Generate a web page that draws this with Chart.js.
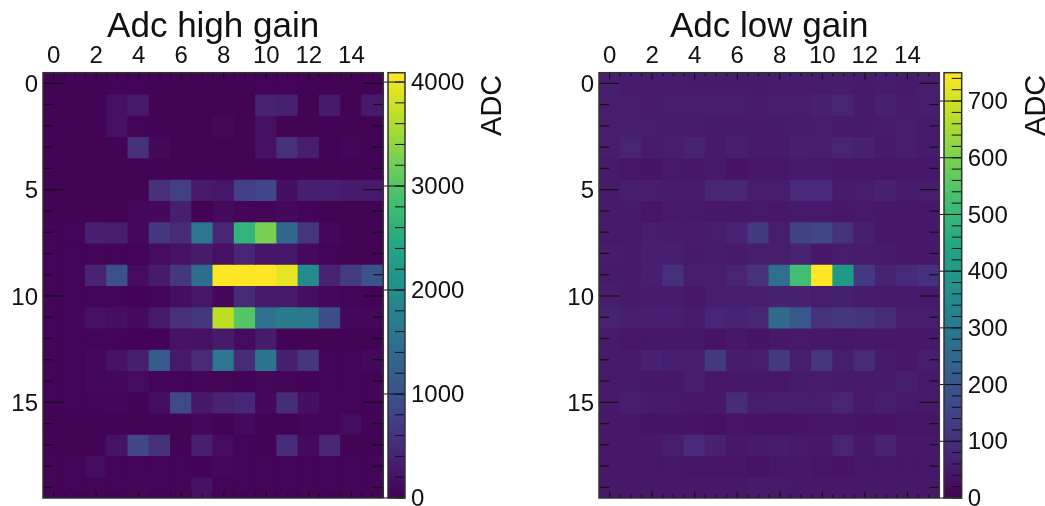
<!DOCTYPE html>
<html>
<head>
<meta charset="utf-8">
<title>Adc gain</title>
<script src="https://cdn.jsdelivr.net/npm/chart.js@4"></script>
<style>
    html, body { margin: 0; padding: 0; background: #fff; }
    #page { position: relative; width: 1045px; height: 506px; overflow: hidden; }
    canvas { position: absolute; top: 0; }
</style>
</head>
<body>
<div id="page">
    <canvas id="highMap" width="390" height="530" style="left:0"></canvas>
    <canvas id="highBar" width="140" height="530" style="left:380px"></canvas>
    <canvas id="lowMap" width="390" height="530" style="left:556px"></canvas>
    <canvas id="lowBar" width="109" height="530" style="left:936px"></canvas>
</div>
<script>
const columnLabels = ['0', '1', '2', '3', '4', '5', '6', '7', '8', '9', '10', '11', '12', '13', '14', '15'];
const rowTicks = [0, 5, 10, 15];

const highGain = [
    [30, 30, 30, 35, 35, 30, 30, 30, 30, 30, 35, 35, 30, 30, 30, 30],
    [30, 30, 30, 190, 280, 30, 30, 30, 30, 30, 380, 360, 30, 300, 30, 280],
    [30, 30, 30, 180, 40, 30, 30, 30, 90, 30, 180, 30, 30, 30, 30, 30],
    [30, 30, 30, 30, 560, 90, 30, 30, 30, 30, 180, 560, 340, 30, 60, 30],
    [30, 30, 30, 30, 30, 30, 30, 30, 30, 30, 30, 30, 30, 30, 30, 30],
    [30, 30, 30, 30, 30, 550, 760, 280, 250, 760, 850, 170, 350, 350, 290, 280],
    [30, 30, 30, 30, 70, 80, 350, 10, 100, 60, 60, 80, 40, 30, 30, 30],
    [40, 40, 350, 330, 80, 650, 480, 1600, 430, 2650, 3250, 1350, 620, 80, 30, 30],
    [50, 40, 40, 50, 40, 130, 200, 300, 180, 420, 230, 250, 110, 50, 30, 20],
    [50, 50, 400, 1000, 120, 300, 650, 1450, 4090, 4090, 4090, 3950, 1950, 400, 700, 1050],
    [50, 50, 50, 50, 20, 50, 150, 250, 80, 480, 300, 280, 150, 80, 50, 20],
    [50, 50, 180, 150, 100, 280, 550, 650, 3680, 3000, 1500, 1680, 1650, 950, 80, 80],
    [50, 50, 50, 50, 20, 20, 200, 180, 300, 120, 300, 30, 30, 30, 30, 30],
    [40, 40, 70, 200, 350, 1150, 280, 480, 1600, 500, 1550, 350, 620, 40, 40, 90],
    [40, 40, 70, 90, 120, 50, 50, 50, 50, 30, 70, 60, 30, 40, 40, 40],
    [40, 40, 40, 60, 30, 150, 900, 270, 380, 450, 80, 520, 170, 50, 50, 40],
    [30, 30, 30, 30, 30, 30, 30, 70, 30, 100, 30, 30, 60, 50, 130, 30],
    [30, 30, 30, 200, 850, 550, 30, 350, 120, 50, 30, 480, 100, 420, 30, 30],
    [40, 40, 130, 40, 40, 40, 40, 20, 70, 40, 40, 40, 40, 50, 40, 40],
    [40, 40, 40, 40, 60, 40, 40, 180, 40, 40, 40, 40, 40, 40, 40, 40]
];

const lowGain = [
    [65, 58, 58, 58, 55, 55, 55, 55, 58, 58, 58, 58, 55, 58, 55, 60],
    [60, 60, 58, 62, 60, 60, 62, 58, 60, 62, 68, 75, 55, 68, 58, 62],
    [60, 65, 60, 58, 58, 55, 55, 55, 55, 58, 60, 55, 55, 58, 62, 55],
    [60, 75, 58, 60, 72, 55, 65, 55, 55, 65, 62, 75, 68, 55, 60, 55],
    [55, 45, 40, 52, 50, 52, 38, 50, 50, 55, 52, 48, 48, 48, 48, 50],
    [55, 62, 60, 58, 58, 80, 85, 62, 62, 90, 90, 58, 62, 68, 58, 60],
    [55, 55, 42, 52, 52, 50, 50, 52, 50, 52, 52, 50, 52, 48, 48, 50],
    [52, 52, 60, 58, 58, 62, 72, 125, 60, 145, 155, 105, 65, 50, 50, 50],
    [58, 55, 65, 65, 55, 58, 55, 65, 60, 70, 50, 62, 58, 55, 50, 50],
    [55, 55, 65, 100, 62, 62, 75, 105, 270, 520, 750, 400, 125, 72, 90, 100],
    [60, 55, 58, 58, 48, 62, 62, 62, 68, 68, 62, 65, 58, 55, 52, 52],
    [70, 65, 65, 65, 58, 78, 72, 85, 260, 205, 105, 115, 110, 92, 62, 60],
    [55, 45, 45, 48, 50, 38, 48, 40, 50, 52, 48, 45, 48, 48, 48, 48],
    [52, 55, 68, 65, 62, 125, 58, 62, 125, 60, 115, 62, 88, 55, 50, 60],
    [52, 55, 50, 50, 62, 50, 50, 50, 50, 55, 58, 55, 52, 55, 65, 52],
    [52, 62, 55, 52, 48, 50, 95, 60, 65, 60, 60, 75, 52, 60, 52, 52],
    [48, 48, 40, 40, 38, 35, 42, 38, 36, 38, 42, 42, 40, 38, 42, 42],
    [50, 50, 50, 62, 90, 68, 50, 55, 58, 52, 48, 75, 50, 72, 50, 50],
    [48, 50, 45, 45, 42, 42, 42, 36, 45, 48, 42, 38, 45, 45, 45, 45],
    [48, 50, 48, 48, 48, 48, 48, 55, 52, 50, 50, 48, 50, 48, 50, 50]
];

const highMax = 4090;
const lowMax = 750;
const highTicks = [0, 1000, 2000, 3000, 4000];
const lowTicks = [0, 100, 200, 300, 400, 500, 600, 700];
const viridis = ['#440154', '#482475', '#414487', '#355f8d', '#2a788e', '#21918c', '#22a884', '#44bf70', '#7ad151', '#bddf26', '#fde725'];

const fontName = '"Liberation Sans", Arial, sans-serif';
const inkColor = '#111';

function cellColor(value, max) {
    var pos = Math.min(value / max, 1) * (viridis.length - 1);
    var i = Math.min(Math.floor(pos), viridis.length - 2);
    var t = pos - i;
    var a = parseInt(viridis[i].slice(1), 16);
    var b = parseInt(viridis[i + 1].slice(1), 16);
    var r = Math.round((a >> 16) + ((b >> 16) - (a >> 16)) * t);
    var g = Math.round(((a >> 8) & 255) + (((b >> 8) & 255) - ((a >> 8) & 255)) * t);
    var bl = Math.round((a & 255) + ((b & 255) - (a & 255)) * t);
    return 'rgb(' + r + ',' + g + ',' + bl + ')';
}

function line(ctx, x1, y1, x2, y2) {
    ctx.beginPath();
    ctx.moveTo(x1, y1);
    ctx.lineTo(x2, y2);
    ctx.stroke();
}

// inward ticks on all four sides, same look as the ROOT frame
const mapFrame = {
    id: 'mapFrame',
    afterDraw: function(chart) {
        const ctx = chart.ctx;
        const area = chart.chartArea;
        const xs = chart.scales.x;
        const ys = chart.scales.y;
        ctx.save();
        ctx.strokeStyle = inkColor;
        ctx.lineWidth = 1.2;
        for (let v = 0; v <= 15.5; v += 0.5) {
            const px = xs.getPixelForValue(v);
            const len = v % 2 === 0 ? 6.5 : 3.5;
            line(ctx, px, area.top, px, area.top + len);
            line(ctx, px, area.bottom, px, area.bottom - len);
        }
        for (let r = 0; r <= 19; r++) {
            const py = ys.getPixelForValue(r);
            const len = r % 5 === 0 ? 20 : 10;
            line(ctx, area.left, py, area.left + len, py);
            line(ctx, area.right, py, area.right - len, py);
        }
        ctx.strokeStyle = '#333';
        ctx.lineWidth = 1.5;
        ctx.strokeRect(area.left, area.top, area.right - area.left, area.bottom - area.top);
        ctx.restore();
    }
};

const barFrame = {
    id: 'barFrame',
    afterDraw: function(chart, args, opts) {
        const ctx = chart.ctx;
        const area = chart.chartArea;
        const ys = chart.scales.y;
        ctx.save();
        ctx.strokeStyle = inkColor;
        ctx.lineWidth = 1;
        for (let v = 0; v <= opts.max; v += opts.minorStep) {
            const py = ys.getPixelForValue(v);
            line(ctx, area.right, py, area.right - 10, py);
        }
        opts.majors.forEach(function(v) {
            const py = ys.getPixelForValue(v);
            line(ctx, area.left - 4, py, area.right, py);
        });
        ctx.strokeStyle = '#333';
        ctx.lineWidth = 1.5;
        ctx.strokeRect(area.left, area.top, area.right - area.left, area.bottom - area.top);
        // chart.js only turns a right hand axis title downward, this one reads upward
        ctx.translate(area.right + opts.titleOffset, area.top + 2);
        ctx.rotate(-Math.PI / 2);
        ctx.fillStyle = inkColor;
        ctx.font = '29px ' + fontName;
        ctx.textAlign = 'right';
        ctx.textBaseline = 'alphabetic';
        ctx.fillText('ADC', 0, 0);
        ctx.restore();
    }
};

function drawMap(id, rows, max, title) {
    return new Chart(document.getElementById(id), {
        type: 'bar',
        data: {
            labels: columnLabels,
            datasets: rows.map(function(row, r) {
                return {
                    data: row.map(function() { return [r - 0.5, r + 0.5]; }),
                    backgroundColor: row.map(function(v) { return cellColor(v, max); })
                };
            })
        },
        options: {
            responsive: false,
            animation: false,
            layout: { padding: { left: 0, top: 0, right: 6.7, bottom: 32 } },
            datasets: { bar: { grouped: false, barPercentage: 1, categoryPercentage: 1, borderWidth: 0, inflateAmount: 0.6 } },
            plugins: {
                legend: { display: false },
                tooltip: { enabled: false },
                title: {
                    display: true,
                    text: title,
                    color: inkColor,
                    fullSize: false,
                    font: { family: fontName, size: 35, weight: 'normal', lineHeight: 0.7 },
                    padding: { top: 14.8, bottom: 0.4 }
                }
            },
            scales: {
                x: {
                    position: 'top',
                    afterFit: function(s) { s.height = 33; },
                    grid: { display: false, drawTicks: false },
                    border: { display: false },
                    ticks: {
                        color: inkColor,
                        font: { family: fontName, size: 24 },
                        padding: 1.5,
                        autoSkip: false,
                        maxRotation: 0,
                        callback: function(value, index) {
                            return index % 2 === 0 ? columnLabels[index] : '';
                        }
                    }
                },
                y: {
                    min: -0.5,
                    max: 19.5,
                    reverse: true,
                    afterBuildTicks: function(s) {
                        s.ticks = rowTicks.map(function(v) { return { value: v }; });
                    },
                    afterFit: function(s) { s.width = 43; },
                    grid: { display: false, drawTicks: false },
                    border: { display: false },
                    ticks: {
                        color: inkColor,
                        font: { family: fontName, size: 24 },
                        padding: 5,
                        labelOffset: 2,
                        callback: function(value) { return String(value); }
                    }
                }
            }
        },
        plugins: [mapFrame]
    });
}

function drawBar(id, max, majors, minorStep, titleOffset, width) {
    return new Chart(document.getElementById(id), {
        type: 'bar',
        data: {
            labels: ['ADC'],
            datasets: [{
                data: [[0, max]],
                borderWidth: 0,
                barPercentage: 1,
                categoryPercentage: 1,
                backgroundColor: function(context) {
                    const chart = context.chart;
                    if (!chart.chartArea) {
                        return viridis[0];
                    }
                    const ys = chart.scales.y;
                    const grad = chart.ctx.createLinearGradient(0, ys.getPixelForValue(0), 0, ys.getPixelForValue(max));
                    viridis.forEach(function(c, i) {
                        grad.addColorStop(i / (viridis.length - 1), c);
                    });
                    return grad;
                }
            }]
        },
        options: {
            responsive: false,
            animation: false,
            layout: { padding: { left: 8, top: 72.7, right: 0, bottom: 32 } },
            plugins: {
                legend: { display: false },
                tooltip: { enabled: false },
                barFrame: { max: max, majors: majors, minorStep: minorStep, titleOffset: titleOffset }
            },
            scales: {
                x: { display: false },
                y: {
                    position: 'right',
                    min: 0,
                    max: max,
                    afterBuildTicks: function(s) {
                        s.ticks = majors.map(function(v) { return { value: v }; });
                    },
                    afterFit: function(s) { s.width = width; },
                    grid: { display: false, drawTicks: false },
                    border: { display: false },
                    ticks: {
                        color: inkColor,
                        font: { family: fontName, size: 24 },
                        padding: 6,
                        labelOffset: 1.5,
                        callback: function(value) { return String(value); }
                    }
                }
            }
        },
        plugins: [barFrame]
    });
}

drawMap('highMap', highGain, highMax, 'Adc high gain');
drawBar('highBar', highMax, highTicks, 200, 96.4, 115);
drawMap('lowMap', lowGain, lowMax, 'Adc low gain');
drawBar('lowBar', lowMax, lowTicks, 20, 83.3, 83.3);
</script>
</body>
</html>
